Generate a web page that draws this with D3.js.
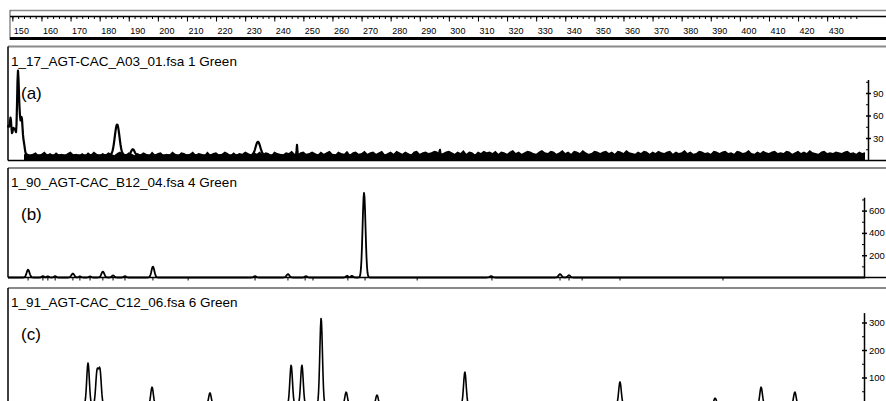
<!DOCTYPE html>
<html>
<head>
<meta charset="utf-8">
<script src="https://cdn.jsdelivr.net/npm/d3@7"></script>
<style>
  body { margin: 0; background: #fff; }
  svg { display: block; font-family: "Liberation Sans", Arial, sans-serif; }
</style>
</head>
<body>
<div id="chart"></div>
<script>
const width = 886;
const height = 401;

// --------------------
// Data
// --------------------
const rulerMajor = d3.range(150, 431, 10);
const rulerMinor = d3.range(150, 441, 2);

const titles = [
  "1_17_AGT-CAC_A03_01.fsa 1 Green",
  "1_90_AGT-CAC_B12_04.fsa 4 Green",
  "1_91_AGT-CAC_C12_06.fsa 6 Green"
];
const tags = ["(a)", "(b)", "(c)"];

const yTicksA = [30, 60, 90];
const yMinorA = [15, 45, 75, 105];
const yTicksB = [200, 400, 600];
const yMinorB = [100, 300, 500, 700];
const yTicksC = [100, 200, 300];
const yMinorC = [50, 150, 250];

// peaks: [size bp, height above base, width bp]
const peaksA = [
  [148.6, 38, 0.35], [149.4, 46, 0.3], [150.3, 34, 0.35], [151.0, 28, 0.3],
  [151.9, 106, 0.3], [152.5, 43, 0.3], [153.2, 46, 0.3], [153.9, 16, 0.35],
  [186.0, 41, 0.8], [191.4, 8, 0.6], [234.4, 18, 0.8], [247.8, 14, 0.12],
  [296.9, 8, 0.12]
];
// baseline noise band of (a), one value per bp from 154 to 443
const noiseStartA = 154;
const noiseA = [
  8,10,7,9,11,7,9,12,8,10,7,11,8,9,7,10,12,8,9,7,
  10,7,11,8,12,9,7,10,8,11,9,7,10,12,9,8,11,9,7,10,
  8,11,9,7,12,8,10,11,7,9,8,12,9,7,11,10,8,9,12,8,
  10,9,7,12,8,10,11,8,9,12,10,7,11,8,10,9,12,10,8,11,
  9,12,8,11,10,7,12,10,9,8,11,10,13,9,8,11,12,9,10,12,
  10,8,12,9,11,13,9,8,12,10,9,13,8,11,12,9,10,13,9,11,
  12,9,11,13,8,10,12,9,13,11,9,12,10,8,12,13,9,11,12,10,
  11,13,12,9,10,12,13,11,9,12,10,14,9,12,11,8,12,10,13,11,
  12,10,13,9,12,11,9,12,14,10,12,9,11,13,12,10,9,12,14,11,
  10,13,12,9,11,14,10,12,9,13,12,10,14,11,9,10,13,12,10,12,
  13,10,12,9,13,12,10,14,11,10,9,12,10,13,12,9,12,10,13,11,
  10,12,13,9,12,10,11,14,10,12,9,10,13,12,10,11,9,13,12,10,
  12,13,10,11,9,13,12,10,11,14,10,9,12,10,13,11,10,12,13,10,
  11,10,13,12,9,11,13,10,12,10,14,11,10,9,12,13,10,11,10,12,
  11,10,12,13,10,11,9,12,10,11
];

const peaksB = [
  [155.4, 70, 0.5], [160.5, 12, 0.4], [162.2, 10, 0.4], [164.7, 12, 0.4],
  [170.8, 35, 0.5], [173.2, 10, 0.4], [176.7, 10, 0.4], [181.1, 53, 0.5],
  [184.6, 18, 0.45], [188.7, 12, 0.4], [198.3, 98, 0.5], [233.4, 12, 0.45],
  [244.7, 30, 0.5], [250.9, 12, 0.4], [265.0, 15, 0.4], [266.7, 15, 0.4],
  [270.85, 760, 0.5],
  [314.5, 12, 0.5], [338.2, 30, 0.5], [341.3, 20, 0.45]
];
const tickMarksB = [
  155.4, 160.5, 162.2, 164.7, 170.8, 173.2, 176.7, 181.1, 184.6, 188.7,
  198.3, 210.4, 233.4, 244.7, 250.6, 253.3, 265.3, 271.2, 289.1, 314.8,
  338.2, 341.3, 345.8, 358.8, 394.2
];

const peaksC = [
  [160.2, 8, 0.4], [176.0, 153, 0.45], [179.1, 120, 0.45], [180.1, 124, 0.45],
  [184.2, 10, 0.4], [192.1, 8, 0.4], [198.0, 65, 0.45], [205.9, 6, 0.4],
  [217.9, 44, 0.45], [245.8, 145, 0.45], [249.5, 145, 0.45], [256.1, 316, 0.45],
  [264.7, 47, 0.45], [275.3, 36, 0.45], [305.5, 120, 0.45], [358.8, 84, 0.45],
  [391.5, 25, 0.45], [407.3, 65, 0.45], [418.9, 47, 0.45], [423.4, 10, 0.4],
  [431.7, 8, 0.4]
];

// --------------------
// Layout
// --------------------
const svg = d3.select("#chart").append("svg")
  .attr("width", width)
  .attr("height", height)
  .attr("viewBox", `0 0 ${width} ${height}`);

const x = d3.scaleLinear().domain([148.5, 443]).range([8, 865]);

const gray = "#8a8a8a";

// ruler
svg.append("line").attr("x1", 10).attr("x2", width).attr("y1", 10.5).attr("y2", 10.5)
  .attr("stroke", gray).attr("stroke-width", 1.5);
svg.append("line").attr("x1", 10).attr("x2", 10).attr("y1", 10).attr("y2", 40)
  .attr("stroke", "#555").attr("stroke-width", 1);

const rulerG = svg.append("g").attr("transform", "translate(0,16.5)");
rulerG.call(d3.axisBottom(x).tickValues(rulerMinor).tickSize(2.5).tickSizeOuter(0).tickFormat(""));
rulerG.select(".domain").remove();
const rulerMaj = svg.append("g").attr("transform", "translate(0,16.5)");
rulerMaj.call(d3.axisBottom(x).tickValues(rulerMajor).tickSize(5).tickSizeOuter(0));
rulerMaj.select(".domain").remove();
rulerMaj.selectAll("text")
  .attr("text-anchor", "start")
  .attr("x", 1)
  .attr("y", 11)
  .attr("dy", "0.71em")
  .attr("font-size", 9)
  .attr("font-family", "Liberation Sans, Arial, sans-serif")
  .attr("fill", "#000");
svg.selectAll(".tick line").attr("stroke", "#000");
svg.append("line").attr("x1", 10).attr("x2", width).attr("y1", 16.5).attr("y2", 16.5)
  .attr("stroke", "#000").attr("stroke-width", 1.5);
svg.append("line").attr("x1", 10).attr("x2", width).attr("y1", 38.5).attr("y2", 38.5)
  .attr("stroke", "#000").attr("stroke-width", 3);

// panels
const panels = [
  { top: 46.5, base: 160.5, topVal: 108, pxPer: 22.5 / 30, axisX: 868,
    ticks: yTicksA, minor: yMinorA, peaks: peaksA, peakBase: 7, stroke: 2.2 },
  { top: 168, base: 277.5, topVal: 720, pxPer: 22.3 / 200, axisX: 864,
    ticks: yTicksB, minor: yMinorB, peaks: peaksB, peakBase: 0, stroke: 1.8, marks: tickMarksB },
  { top: 288, base: 405, topVal: 336, pxPer: 27.5 / 100, axisX: 864,
    ticks: yTicksC, minor: yMinorC, peaks: peaksC, peakBase: 0, stroke: 1.6 }
];

function sampleTrace(peaks, base) {
  const pts = [];
  const [r0, r1] = x.range();
  for (let px = r0; px <= r1; px += 0.5) {
    const v = x.invert(px);
    let s = base;
    peaks.forEach(([p, h, w]) => { s += h * Math.exp(-((v - p) ** 2) / (2 * w * w)); });
    pts.push([v, s]);
  }
  return pts;
}

panels.forEach((p, i) => {
  const g = svg.append("g");
  const y = d3.scaleLinear()
    .domain([0, p.topVal])
    .range([p.base, p.base - p.topVal * p.pxPer]);

  // frame
  g.append("line").attr("x1", 8).attr("x2", width).attr("y1", p.top).attr("y2", p.top)
    .attr("stroke", gray).attr("stroke-width", 2);
  g.append("line").attr("x1", 8).attr("x2", 8).attr("y1", p.top).attr("y2", p.base)
    .attr("stroke", "#000").attr("stroke-width", 1.5);

  g.append("text")
    .attr("x", 11).attr("y", p.top + 19)
    .attr("font-size", 13.5)
    .text(titles[i]);
  g.append("text")
    .attr("x", 21).attr("y", p.top + 52)
    .attr("font-size", 17)
    .text(tags[i]);

  // noise band (a only)
  if (i === 0) {
    const area = d3.area()
      .x((d, k) => x(noiseStartA + k))
      .y0(y(0))
      .y1(d => y(d));
    g.append("path").datum(noiseA).attr("d", area).attr("fill", "#000");
  }

  // trace
  const line = d3.line().x(d => x(d[0])).y(d => y(d[1]));
  g.append("path")
    .datum(sampleTrace(p.peaks, p.peakBase))
    .attr("d", line)
    .attr("fill", "none")
    .attr("stroke", "#000")
    .attr("stroke-width", p.stroke)
    .attr("stroke-linejoin", "round");

  // baseline
  g.append("line").attr("x1", 8).attr("x2", width).attr("y1", p.base).attr("y2", p.base)
    .attr("stroke", "#000").attr("stroke-width", 1.5);

  // peak marks below baseline
  if (p.marks) {
    g.selectAll("line.mark").data(p.marks).join("line")
      .attr("class", "mark")
      .attr("x1", d => x(d)).attr("x2", d => x(d))
      .attr("y1", p.base).attr("y2", p.base + 3)
      .attr("stroke", "#000").attr("stroke-width", 1);
  }

  // right axis
  const ax = g.append("g").attr("transform", `translate(${p.axisX},0)`);
  ax.call(d3.axisRight(y).tickValues(p.ticks).tickSize(3).tickSizeOuter(0).tickPadding(2));
  ax.selectAll(".tick line").attr("x1", -2).attr("stroke", "#000").attr("stroke-width", 1.5);
  ax.select(".domain").attr("stroke", "#000").attr("stroke-width", 1.5);
  ax.selectAll("text")
    .attr("font-size", 9.5)
    .attr("font-family", "Liberation Sans, Arial, sans-serif")
    .attr("fill", "#000");
  const axm = g.append("g").attr("transform", `translate(${p.axisX},0)`);
  axm.call(d3.axisRight(y).tickValues(p.minor.filter(v => v < p.topVal)).tickSize(-2).tickSizeOuter(0).tickFormat(""));
  axm.select(".domain").remove();
  axm.selectAll(".tick line").attr("stroke", "#000");
});
</script>
</body>
</html>
